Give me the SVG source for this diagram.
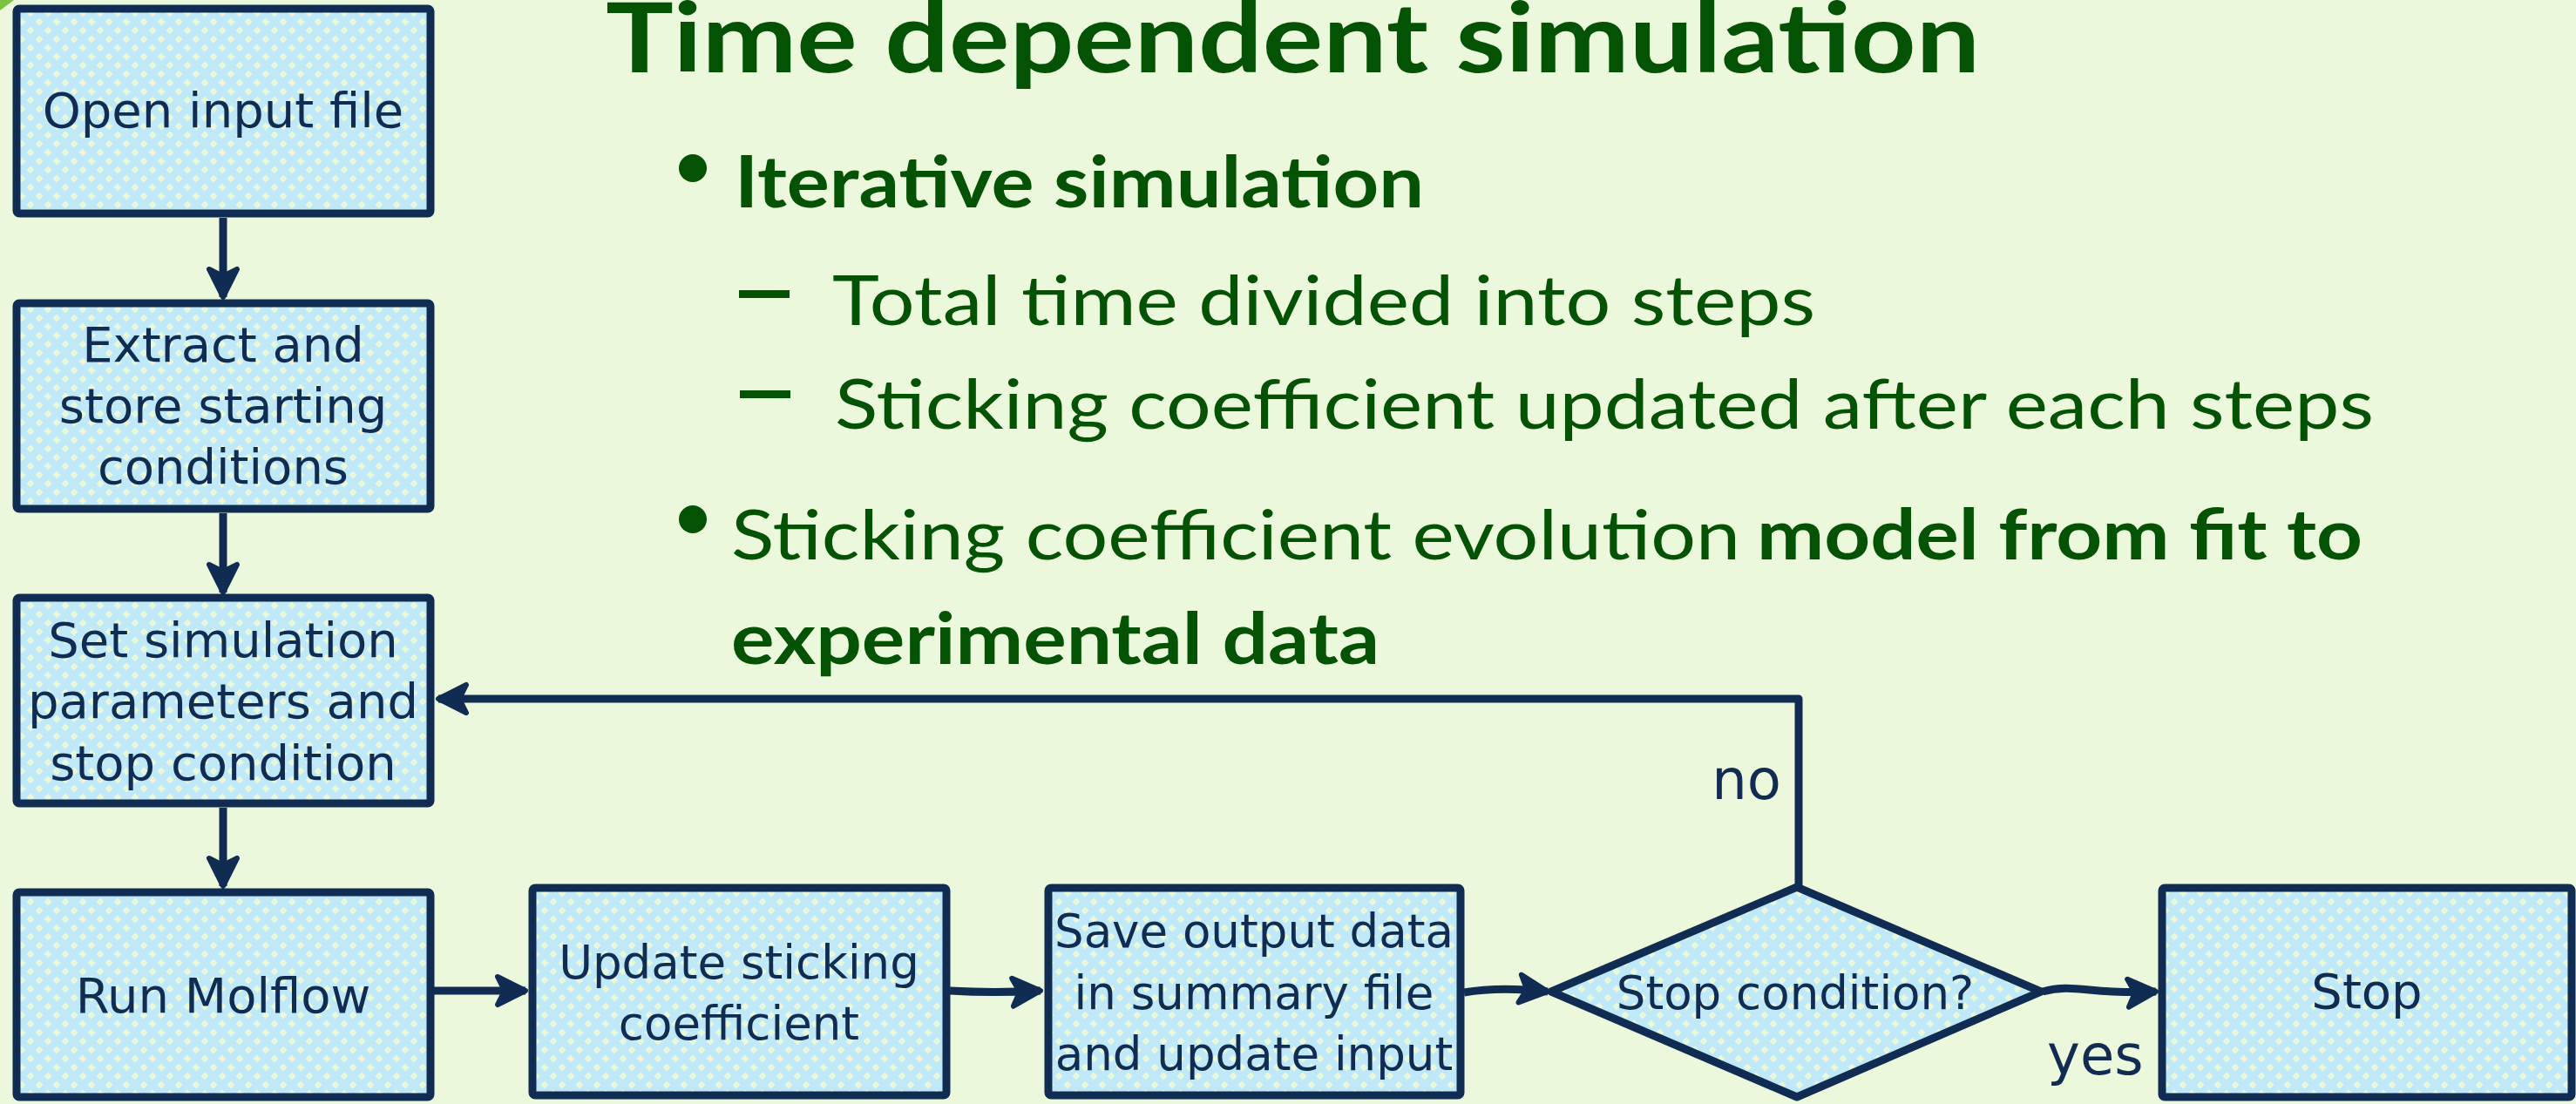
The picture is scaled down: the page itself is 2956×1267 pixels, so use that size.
<svg xmlns="http://www.w3.org/2000/svg" width="2956" height="1267" viewBox="0 0 2956 1267">
  <defs>
    <pattern id="hatch" patternUnits="userSpaceOnUse" width="20" height="20">
      <rect width="20" height="20" fill="#BFE9F8"/>
      <polygon points="5,0.5 9.5,5 5,9.5 0.5,5" fill="#E9F8D9"/>
      <polygon points="15,10.5 19.5,15 15,19.5 10.5,15" fill="#E9F8D9"/>
    </pattern>
    <marker id="ah" viewBox="-45 -25 50 50" markerWidth="50" markerHeight="50" refX="0" refY="0" orient="auto" markerUnits="userSpaceOnUse">
      <path d="M-32,-16 L0,0 L-32,16 L-24,0 Z" fill="#112C52" stroke="#112C52" stroke-width="6" stroke-linejoin="round"/>
    </marker>
    <style>
      .box { fill: url(#hatch); stroke: #112C52; stroke-width: 9; stroke-linejoin: round; }
      .nt { font-family: "DejaVu Sans", "Liberation Sans", sans-serif; fill: #112C52; text-anchor: middle; }
      .n56 { font-size: 56px; }
      .n53 { font-size: 53px; }
      .lbl { font-family: "DejaVu Sans", "Liberation Sans", sans-serif; fill: #112C52; font-size: 64px; }
      .con { fill: none; stroke: #112C52; stroke-width: 9; stroke-linecap: butt; stroke-linejoin: round; marker-end: url(#ah); }
      .sl { font-family: Lato, "Liberation Sans", sans-serif; fill: #045204; }
      .b { font-weight: bold; }
    </style>
  </defs>

  <rect x="0" y="0" width="2956" height="1267" fill="#ECF8DB"/>
  <polygon points="0,0 16,0 0,12" fill="#7CC142"/>

  <g id="slide-text">
    <text class="sl b" x="695" y="83" font-size="112" textLength="1577" lengthAdjust="spacingAndGlyphs">Time dependent simulation</text>
    <circle cx="795" cy="193" r="16" fill="#045204"/>
    <text class="sl b" x="843" y="238" font-size="82" textLength="791" lengthAdjust="spacingAndGlyphs">Iterative simulation</text>
    <rect x="848" y="333" width="58" height="9" fill="#045204"/>
    <text class="sl" x="955" y="373" font-size="80" textLength="1128" lengthAdjust="spacingAndGlyphs">Total time divided into steps</text>
    <rect x="849" y="448" width="58" height="9" fill="#045204"/>
    <text class="sl" x="958" y="492" font-size="80" textLength="1766" lengthAdjust="spacingAndGlyphs">Sticking coefficient updated after each steps</text>
    <circle cx="795" cy="596" r="16" fill="#045204"/>
    <text class="sl" x="839" y="642" font-size="80"><tspan textLength="1158" lengthAdjust="spacingAndGlyphs">Sticking coefficient evolution</tspan><tspan class="b" x="2016" textLength="695" lengthAdjust="spacingAndGlyphs">model from fit to</tspan></text>
    <text class="sl b" x="839" y="762" font-size="82" textLength="744" lengthAdjust="spacingAndGlyphs">experimental data</text>
  </g>

  <g id="connectors">
    <path class="con" d="M256,250 L256,341"/>
    <path class="con" d="M256,589 L256,680"/>
    <path class="con" d="M256,927 L256,1017"/>
    <path class="con" d="M498,1137 L603,1137"/>
    <path class="con" d="M1090,1137 Q1140,1140 1194,1137"/>
    <path class="con" d="M1680,1139 Q1720,1132 1776,1138"/>
    <path class="con" d="M2344,1138 C2380,1128 2400,1142 2474,1138"/>
    <path class="con" d="M2064,1016 L2064,802 L503,802"/>
    <text class="lbl" x="2044" y="917" text-anchor="end">no</text>
    <text class="lbl" x="2349" y="1233">yes</text>
  </g>

  <g id="open-input-file">
    <rect class="box" x="19" y="10" width="475" height="235" rx="3"/>
    <text class="nt n56" x="256" y="146">Open input file</text>
  </g>

  <g id="extract-store">
    <rect class="box" x="19" y="348" width="475" height="236" rx="3"/>
    <text class="nt n56" x="256" y="415">Extract and</text>
    <text class="nt n56" x="256" y="485">store starting</text>
    <text class="nt n56" x="256" y="555">conditions</text>
  </g>

  <g id="set-parameters">
    <rect class="box" x="19" y="686" width="475" height="236" rx="3"/>
    <text class="nt n56" x="256" y="754">Set simulation</text>
    <text class="nt n56" x="256" y="824">parameters and</text>
    <text class="nt n56" x="256" y="895">stop condition</text>
  </g>

  <g id="run-molflow">
    <rect class="box" x="19" y="1024" width="475" height="235" rx="3"/>
    <text class="nt n56" x="256" y="1162">Run Molflow</text>
  </g>

  <g id="update-sticking">
    <rect class="box" x="611" y="1019" width="475" height="238" rx="3"/>
    <text class="nt n53" x="848" y="1123">Update sticking</text>
    <text class="nt n53" x="848" y="1193">coefficient</text>
  </g>

  <g id="save-output">
    <rect class="box" x="1203" y="1019" width="473" height="238" rx="3"/>
    <text class="nt n53" x="1439" y="1087">Save output data</text>
    <text class="nt n53" x="1439" y="1158">in summary file</text>
    <text class="nt n53" x="1439" y="1228">and update input</text>
  </g>

  <g id="stop-condition">
    <polygon class="box" points="2062,1018 2342,1138 2062,1259 1780,1138"/>
    <text class="nt n53" x="2060" y="1158">Stop condition?</text>
  </g>

  <g id="stop">
    <rect class="box" x="2481" y="1019" width="470" height="240" rx="3"/>
    <text class="nt n56" x="2716" y="1157">Stop</text>
  </g>
</svg>
